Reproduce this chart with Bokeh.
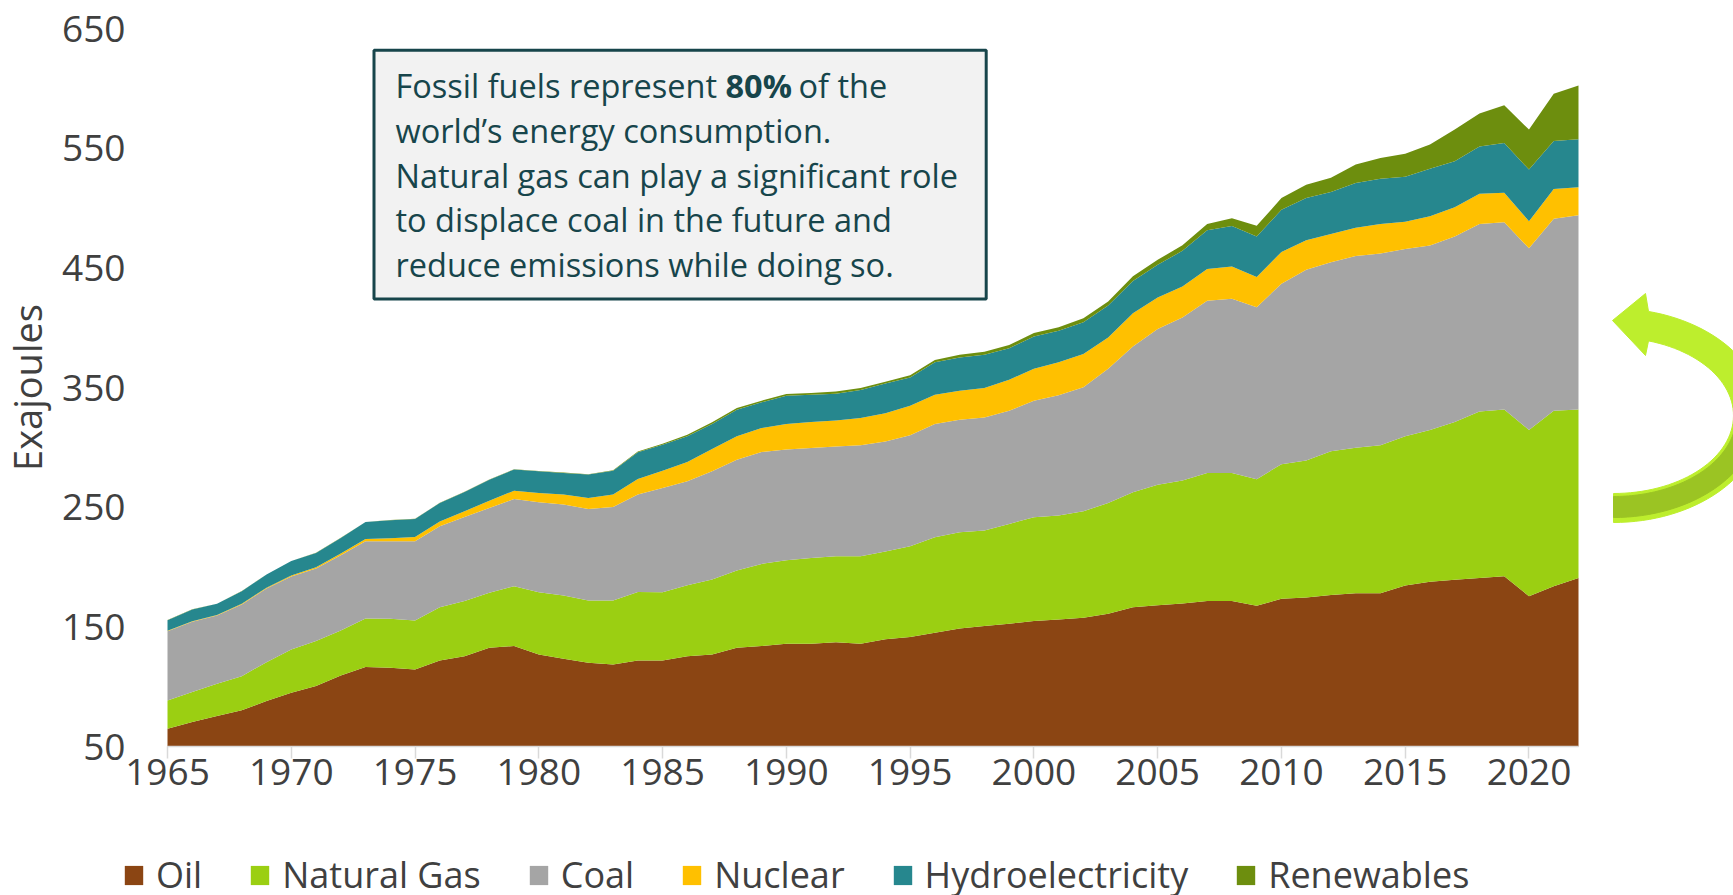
import math
import numpy as np
from bokeh.plotting import figure
from bokeh.models import (Legend, LegendItem, BoxAnnotation, Label, PolyAnnotation,
                          FixedTicker, Range1d, ColumnDataSource)
from bokeh.embed import file_html
from bokeh.resources import INLINE

years = list(range(1965, 2023))

oil = [64.9, 70.5, 75.5, 80.2, 88.0, 94.9, 100.5, 109.4, 116.4, 115.8,
       114.4, 121.9, 125.5, 132.5, 134.0, 126.9, 123.3, 120.0, 118.6, 121.9,
       121.9, 125.5, 126.9, 132.5, 133.9, 135.8, 135.8, 137.2, 135.8, 139.7,
       141.4, 145.0, 148.6, 150.6, 152.5, 154.8, 156.2, 157.5, 160.9, 166.4,
       168.1, 169.5, 171.5, 171.5, 167.6, 173.5, 174.5, 176.5, 178.0, 178.0,
       184.6, 187.6, 189.3, 190.8, 192.3, 175.6, 184.0, 190.8]
gas = [23.6, 25.0, 26.9, 28.6, 32.5, 36.2, 37.6, 37.6, 40.6, 40.9,
       40.9, 44.5, 46.0, 45.9, 50.0, 52.1, 52.9, 52.0, 53.4, 57.3,
       57.1, 59.3, 62.7, 64.6, 68.7, 69.9, 71.8, 71.8, 73.2, 73.2,
       76.0, 79.9, 80.4, 79.8, 83.5, 86.8, 86.8, 89.1, 92.6, 96.0,
       100.7, 102.7, 107.1, 107.1, 105.8, 112.4, 114.4, 120.2, 121.7, 123.8,
       124.6, 126.9, 131.8, 139.2, 139.3, 138.9, 146.6, 140.8]
coal = [57.9, 58.7, 57.1, 59.9, 61.6, 61.0, 60.6, 62.8, 64.5, 64.8,
        66.2, 67.7, 70.3, 70.9, 72.8, 75.1, 76.0, 76.5, 78.2, 81.3,
        87.0, 86.8, 90.4, 92.6, 93.5, 92.4, 91.8, 91.8, 92.7, 92.0,
        92.6, 94.6, 94.1, 94.6, 94.5, 97.4, 100.6, 103.7, 112.2, 121.9,
        130.0, 136.3, 143.8, 145.5, 143.7, 150.9, 159.5, 158.0, 160.1, 160.1,
        156.5, 154.2, 155.0, 156.6, 156.5, 151.8, 160.5, 162.4]
nuclear = [0.3, 0.4, 0.4, 0.5, 0.6, 0.8, 1.1, 1.5, 2.0, 2.6,
           3.5, 4.0, 4.8, 6.0, 7.0, 7.8, 8.3, 9.2, 10.3, 13.0,
           14.5, 16.1, 18.6, 19.5, 20.0, 21.4, 21.7, 21.7, 22.8, 23.5,
           24.8, 24.5, 24.2, 24.5, 26.0, 26.7, 27.6, 27.6, 26.1, 27.8,
           26.4, 25.9, 26.7, 27.0, 25.3, 26.5, 24.7, 23.5, 23.8, 24.7,
           22.9, 24.5, 24.5, 25.3, 24.7, 22.7, 24.7, 23.3]
hydro = [8.9, 9.9, 9.3, 10.6, 11.0, 12.1, 12.0, 13.0, 14.1, 15.0,
         15.2, 15.4, 16.1, 17.7, 17.6, 18.1, 18.1, 19.5, 20.0, 22.3,
         21.7, 21.5, 20.9, 22.2, 21.5, 23.6, 22.9, 22.3, 23.4, 24.9,
         23.6, 27.0, 27.8, 27.9, 26.4, 27.0, 26.2, 26.7, 26.7, 27.0,
         27.3, 29.8, 32.4, 33.9, 33.7, 35.2, 35.2, 35.2, 37.3, 37.9,
         37.6, 39.6, 38.5, 39.4, 41.5, 43.1, 40.2, 40.2]
renewables = [0.1, 0.1, 0.1, 0.1, 0.1, 0.1, 0.1, 0.1, 0.1, 0.1,
              0.1, 0.1, 0.1, 0.1, 0.2, 0.2, 0.3, 0.3, 0.3, 0.8,
              0.8, 1.3, 1.4, 1.4, 1.4, 1.4, 1.3, 1.9, 1.6, 1.5,
              1.8, 2.0, 2.2, 2.4, 2.6, 2.8, 3.0, 3.2, 3.4, 3.8,
              4.2, 4.6, 5.2, 6.4, 9.0, 9.8, 11.1, 11.9, 15.4, 17.2,
              19.1, 20.2, 26.4, 27.7, 31.5, 33.4, 39.4, 44.8]

names = ["Oil", "Natural Gas", "Coal", "Nuclear", "Hydroelectricity", "Renewables"]
series = [oil, gas, coal, nuclear, hydro, renewables]
colors = ["#8B4513", "#9BCF12", "#A5A5A5", "#FFC000", "#26878E", "#6D8E0E"]
x_ticks = [1965, 1970, 1975, 1980, 1985, 1990, 1995, 2000, 2005, 2010, 2015, 2020]
y_ticks = [50, 150, 250, 350, 450, 550, 650]

# canvas geometry (pixels); the frame covers the whole canvas and the axes are
# pinned at the data origin so the legend and the arrow can sit around the plot
W, H = 1733, 895
PX_L, PX_R, PX_T, PX_B = 167, 1578, 28, 746   # where 1965 / 2022 / 650 / 50 sit
ppx = (PX_R - PX_L) / (years[-1] - years[0])
ppy = (PX_B - PX_T) / (y_ticks[-1] - y_ticks[0])
x0 = years[0] - PX_L / ppx
x1 = years[0] + (W - PX_L) / ppx
y1 = y_ticks[-1] + PX_T / ppy
y0 = y_ticks[0] - (H - PX_B) / ppy

p = figure(width=W, height=H, output_backend="svg", toolbar_location=None,
           x_range=Range1d(x0, x1), y_range=Range1d(y0, y1),
           min_border=0, min_border_left=0, min_border_right=0,
           min_border_top=0, min_border_bottom=0)
p.outline_line_color = None
p.xgrid.visible = False
p.ygrid.visible = False
p.background_fill_color = "white"

# stacked areas (baseline = bottom of the value axis)
base = np.full(len(years), float(y_ticks[0]))
cum = np.zeros(len(years))
data = dict(year=years)
rends = []
for i, s in enumerate(series):
    lower = base.copy() if i == 0 else cum.copy()
    cum = cum + np.array(s)
    data[f"lo{i}"] = np.maximum(lower, base)
    data[f"hi{i}"] = cum.copy()
source = ColumnDataSource(data)
for i, c in enumerate(colors):
    r = p.varea(x="year", y1=f"lo{i}", y2=f"hi{i}", source=source,
                fill_color=c, fill_alpha=1.0)
    rends.append(r)

def dx(px):
    return years[0] + (px - PX_L) / ppx

def dy(py):
    return y_ticks[-1] - (py - PX_T) / ppy

# axes
xa = p.xaxis[0]
xa.fixed_location = y_ticks[0]
xa.bounds = (years[0], years[-1])
xa.ticker = FixedTicker(ticks=x_ticks)
xa.axis_line_color = "#D9D9D9"
xa.axis_line_width = 1.5
xa.major_tick_line_color = "#D9D9D9"
xa.major_tick_line_width = 1.5
xa.major_tick_out = 12
xa.major_tick_in = 0
xa.minor_tick_line_color = None
xa.major_label_text_font = "Open Sans"
xa.major_label_text_font_size = "37px"
xa.major_label_text_color = "#404040"
xa.major_label_standoff = 0

ya = p.yaxis[0]
ya.fixed_location = years[0]
ya.bounds = (y_ticks[0], y_ticks[-1])
ya.ticker = FixedTicker(ticks=y_ticks)
ya.axis_line_color = None
ya.major_tick_line_color = None
ya.minor_tick_line_color = None
ya.major_tick_out = 0
ya.major_label_text_font = "Open Sans"
ya.major_label_text_font_size = "37px"
ya.major_label_text_color = "#404040"
ya.major_label_standoff = 42
ya.axis_label = "Exajoules"
ya.axis_label_text_font = "Open Sans"
ya.axis_label_text_font_style = "normal"
ya.axis_label_text_font_size = "38px"
ya.axis_label_text_color = "#404040"
ya.axis_label_standoff = 6

# legend
items = [LegendItem(label=n, renderers=[r]) for n, r in zip(names, rends)]
legend = Legend(items=items, orientation="horizontal", nrows=1, location=(122, -4),
                label_text_font="Open Sans", label_text_font_size="36px",
                label_text_color="#404040", glyph_width=23, glyph_height=24,
                label_standoff=11, spacing=46, padding=0, margin=0,
                border_line_color=None, background_fill_alpha=0)
p.add_layout(legend)

# text box
box = BoxAnnotation(left=dx(373.5), right=dx(985.7), top=dy(49.7), bottom=dy(298.4),
                    fill_color="#F2F2F2", fill_alpha=1.0,
                    line_color="#17454B", line_alpha=1.0, line_width=3)
p.add_layout(box)

text_color = "#17454B"
FS = "32.5px"
lines = [
    None,
    "world\u2019s energy consumption.",
    "Natural gas can play a significant role",
    "to displace coal in the future and",
    "reduce emissions while doing so.",
]
tx = 395
for i, t in enumerate(lines):
    yc = 85 + i * 44.8
    if i == 0:
        parts = [("Fossil fuels represent", "normal", tx),
                 ("80%", "bold", 725),
                 ("of the", "normal", 798)]
        for s, st, xx in parts:
            p.add_layout(Label(x=dx(xx), y=dy(yc), text=s, text_font="Open Sans",
                               text_font_size=FS, text_font_style=st,
                               text_color=text_color, text_baseline="middle",
                               text_align="left"))
    else:
        p.add_layout(Label(x=dx(tx), y=dy(yc), text=t, text_font="Open Sans",
                           text_font_size=FS, text_color=text_color,
                           text_baseline="middle", text_align="left"))

# curved arrow (decoration, right of plot)
cx, cy = 1613.0, 415.0
rxi, ryi = 120.0, 78.0
rxo, ryo = 150.0, 107.0
def ell(rx, ry, t):
    return cx + rx * math.cos(t), cy + ry * math.sin(t)
t_o0 = -math.acos(35.0 / rxo)
t_i0 = -math.acos(35.0 / rxi)
n = 60
outer = [ell(rxo, ryo, t_o0 + (math.pi / 2 - t_o0) * k / n) for k in range(n + 1)]
inner = [ell(rxi, ryi, t_i0 + (math.pi / 2 - t_i0) * k / n) for k in range(n + 1)]
pts = [(1612, 320), (1645, 293)] + outer + inner[::-1] + [(1645, 355)]
p.add_layout(PolyAnnotation(xs=[dx(a) for a, b in pts], ys=[dy(b) for a, b in pts],
                            fill_color="#BDEE2D", fill_alpha=1.0,
                            line_color="#BDEE2D", line_alpha=1.0, line_width=1))
t0 = 0.12
outer2 = [ell(rxo - 5, ryo - 5, t0 + (math.pi / 2 - t0) * k / n) for k in range(n + 1)]
inner2 = [ell(rxi + 3, ryi + 3, t0 + (math.pi / 2 - t0) * k / n) for k in range(n + 1)]
pts2 = outer2 + inner2[::-1]
p.add_layout(PolyAnnotation(xs=[dx(a) for a, b in pts2], ys=[dy(b) for a, b in pts2],
                            fill_color="#9BC423", fill_alpha=1.0,
                            line_color="#9BC423", line_alpha=1.0, line_width=1))

open("out.html", "w").write(file_html(p, INLINE))
